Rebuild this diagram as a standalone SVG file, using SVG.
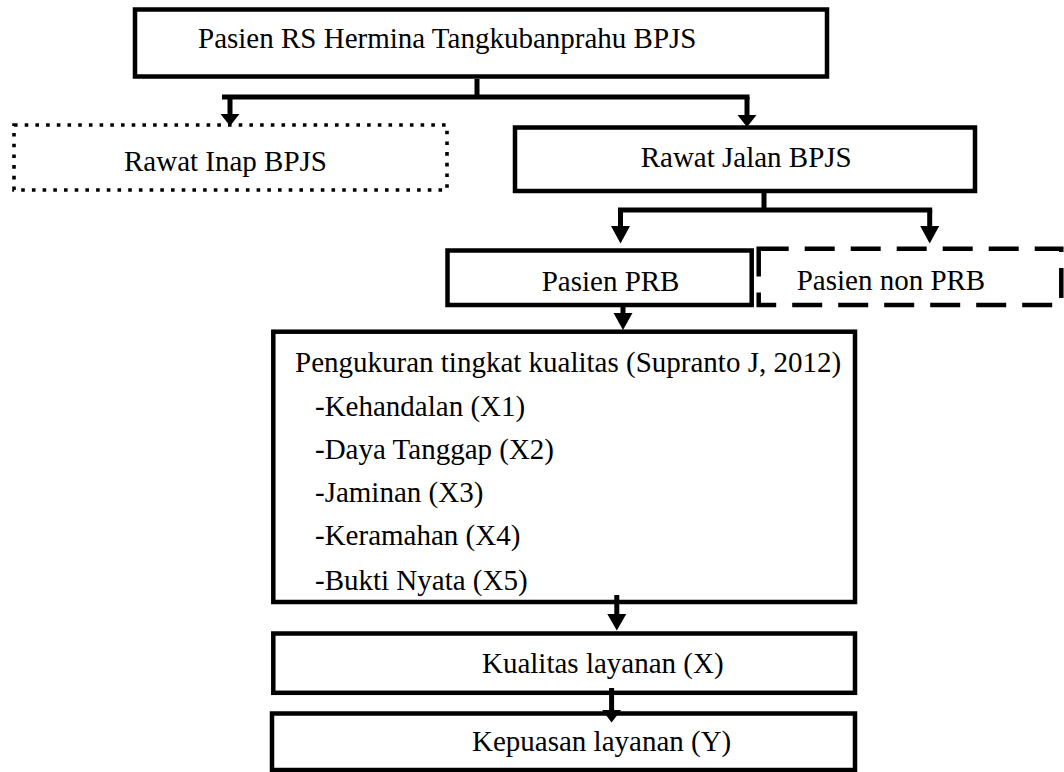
<svg xmlns="http://www.w3.org/2000/svg" width="1064" height="772" viewBox="0 0 1064 772">
  <style>
    .box { fill: #ffffff; stroke: #000000; stroke-width: 4.5; }
    .dotted { fill: #ffffff; stroke: #000000; stroke-width: 3.6; stroke-dasharray: 3.6 7.1; }
    .dashed { fill: #ffffff; stroke: #000000; stroke-width: 4.5; stroke-dasharray: 30 16; }
    .lbl { font-family: "Liberation Serif", "Times New Roman", serif; font-size: 29px; fill: #000000; }
    .conn { fill: none; stroke: #000000; stroke-width: 5; }
    .head { fill: #000000; stroke: none; }
  </style>
  <rect width="1064" height="772" fill="#ffffff"/>

  <g id="node-pasien-rs">
    <rect class="box" x="135" y="9.5" width="692" height="67"/>
    <text class="lbl" x="198" y="48.3">Pasien RS Hermina Tangkubanprahu BPJS</text>
  </g>

  <g id="node-rawat-inap">
    <rect class="dotted" x="14" y="125" width="433" height="65"/>
    <text class="lbl" x="124" y="171">Rawat Inap BPJS</text>
  </g>

  <g id="node-rawat-jalan">
    <rect class="box" x="515" y="127.5" width="460" height="63.5"/>
    <text class="lbl" x="640.7" y="166.7">Rawat Jalan BPJS</text>
  </g>

  <g id="node-pasien-prb">
    <rect class="box" x="447.5" y="250.5" width="304.2" height="54.5"/>
    <text class="lbl" x="541.7" y="290.7">Pasien PRB</text>
  </g>

  <g id="node-pasien-non-prb">
    <rect class="dashed" x="758.7" y="248.7" width="302.6" height="56.3"/>
    <text class="lbl" x="796.7" y="290">Pasien non PRB</text>
  </g>

  <g id="node-pengukuran">
    <rect class="box" x="273.3" y="331.7" width="581.7" height="270.3"/>
    <text class="lbl" x="295" y="371.7">Pengukuran tingkat kualitas (Supranto J, 2012)</text>
    <text class="lbl" x="315" y="415.7">-Kehandalan (X1)</text>
    <text class="lbl" x="315" y="459">-Daya Tanggap (X2)</text>
    <text class="lbl" x="315" y="501.7">-Jaminan (X3)</text>
    <text class="lbl" x="315" y="545">-Keramahan (X4)</text>
    <text class="lbl" x="315" y="590">-Bukti Nyata (X5)</text>
  </g>

  <g id="node-kualitas">
    <rect class="box" x="273.3" y="633.5" width="581.7" height="59.3"/>
    <text class="lbl" x="482" y="673">Kualitas layanan (X)</text>
  </g>

  <g id="node-kepuasan">
    <rect class="box" x="272" y="713.5" width="583" height="56.5"/>
    <text class="lbl" x="472" y="751">Kepuasan layanan (Y)</text>
  </g>

  <g id="connectors">
    <path class="conn" d="M477 79 V97 M222 97 H749.5"/>
    <path class="conn" d="M230 97 V115"/>
    <polygon class="head" points="220.5,114 239.5,114 230,126"/>
    <path class="conn" d="M747 97 V116"/>
    <polygon class="head" points="737.5,115 756.5,115 747,127"/>

    <path class="conn" d="M764 193 V210 M618 210 H932.2"/>
    <path class="conn" d="M620.5 210 V227"/>
    <polygon class="head" points="611,226 630,226 620.5,243.5"/>
    <path class="conn" d="M929.7 210 V227"/>
    <polygon class="head" points="920.2,226 939.2,226 929.7,243.5"/>

    <path class="conn" d="M623 307 V314"/>
    <polygon class="head" points="613.5,313 632.5,313 623,330"/>

    <path class="conn" d="M616.8 595 V615"/>
    <polygon class="head" points="607.3,614 626.3,614 616.8,630.5"/>

    <path class="conn" d="M611.6 688 V711"/>
    <polygon class="head" points="602.1,710 621.1,710 611.6,722.5"/>
  </g>
</svg>
